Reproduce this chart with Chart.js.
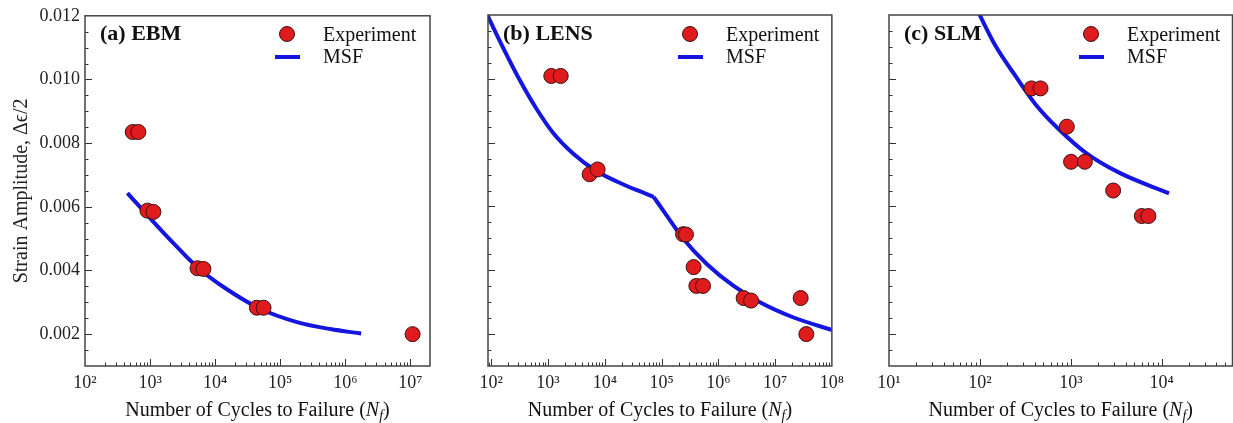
<!DOCTYPE html>
<html lang="en">
<head>
<meta charset="UTF-8">
<title>Strain-life curves: EBM, LENS, SLM</title>
<script src="https://cdn.jsdelivr.net/npm/chart.js"></script>
<style>
  body { margin: 0; background: #fff; }
  #wrap { position: relative; width: 1233px; height: 423px; overflow: hidden; }
  canvas { position: absolute; top: 0; }
</style>
</head>
<body>
<div id="wrap">
  <canvas id="ebm" width="440" height="423" style="left:0px"></canvas>
  <canvas id="lens" width="410" height="423" style="left:440px"></canvas>
  <canvas id="slm" width="391" height="423" style="left:850px"></canvas>
</div>

<script>
// (a) EBM
const ebmExpN   = [541, 661, 910, 1125, 5350, 6600, 43700, 55400, 1.08e7];
const ebmExpAmp = [0.00835, 0.00835, 0.00588, 0.00584, 0.00407, 0.00405, 0.00283, 0.00283, 0.0020];
const ebmMsfN   = [448, 1125, 2280, 5220, 15140, 49200, 181000, 587000, 1750000];
const ebmMsfAmp = [0.00643, 0.00553, 0.00486, 0.00412, 0.00341, 0.00280, 0.00238, 0.00216, 0.00202];

// (b) LENS - the MSF curve has a kink, so it is kept in two pieces
const lensExpN   = [1140, 1670, 5400, 7470, 239000, 269000, 367000, 410000, 537000, 2790000, 3770000, 28200000, 35500000];
const lensExpAmp = [0.01009, 0.01009, 0.00701, 0.00716, 0.00513, 0.00512, 0.0041, 0.00351, 0.00351, 0.00313, 0.00305, 0.00313, 0.0020];
const lensMsfN1   = [80, 161, 315, 621, 1222, 2754, 7080, 23900, 42300, 72400];
const lensMsfAmp1 = [0.0121, 0.01098, 0.00997, 0.00907, 0.00831, 0.00766, 0.00711, 0.00665, 0.00647, 0.0063];
const lensMsfN2   = [72400, 125000, 245000, 631000, 1860000, 5500000, 21200000, 100000000];
const lensMsfAmp2 = [0.0063, 0.0057, 0.00497, 0.00419, 0.00351, 0.00299, 0.00252, 0.00213];

// (c) SLM
const slmExpN   = [369, 464, 903, 1006, 1425, 2920, 6030, 7130];
const slmExpAmp = [0.0097, 0.0097, 0.0085, 0.0074, 0.0074, 0.0065, 0.0057, 0.0057];
const slmMsfN   = [90, 150, 249, 412, 743, 1462, 3397, 12020];
const slmMsfAmp = [0.01225, 0.01101, 0.01007, 0.00919, 0.00841, 0.00768, 0.00706, 0.00641];

const yTicks = [0.002, 0.004, 0.006, 0.008, 0.010, 0.012];

const RED = '#e01b1e';
const BLUE = '#1515e0';
const SERIF = '"Liberation Serif", "Times New Roman", serif';

const sup = n => String(n).split('').map(d => '⁰¹²³⁴⁵⁶⁷⁸⁹'[+d]).join('');
const pts = (xs, ys) => xs.map((x, i) => ({x: x, y: ys[i]}));

// frame, inward ticks, panel label, legend and x title
const panelDecor = {
  id: 'panelDecor',
  afterDatasetsDraw(chart, args, opts) {
    const {ctx, chartArea: a, scales: {x, y}} = chart;
    ctx.save();
    ctx.strokeStyle = '#333';
    ctx.lineWidth = 1;
    ctx.beginPath();
    for (let k = 3; k < 24; k++) {
      const py = Math.round(y.getPixelForValue(k / 2000)) + 0.5;
      const len = k % 4 === 0 ? 7 : 3.5;
      ctx.moveTo(a.left, py); ctx.lineTo(a.left + len, py);
    }
    const e0 = Math.floor(Math.log10(x.min)), e1 = Math.ceil(Math.log10(x.max));
    for (let e = e0; e <= e1; e++) {
      for (let m = 1; m <= 9; m++) {
        const v = m * Math.pow(10, e);
        if (v <= x.min * 1.001 || v >= x.max * 0.999) continue;
        const px = Math.round(x.getPixelForValue(v)) + 0.5;
        const len = m === 1 ? 7 : 3.5;
        ctx.moveTo(px, a.bottom); ctx.lineTo(px, a.bottom - len);
      }
    }
    ctx.stroke();

    ctx.strokeStyle = '#444';
    ctx.lineWidth = 1.5;
    ctx.strokeRect(a.left, a.top, a.right - a.left, a.bottom - a.top);

    // panel label
    ctx.fillStyle = '#111';
    ctx.textBaseline = 'middle';
    ctx.textAlign = 'left';
    ctx.font = 'bold 22px ' + SERIF;
    ctx.fillText(opts.label, a.left + 15, 34);

    // legend
    ctx.beginPath();
    ctx.arc(a.left + 202, 34, 7.5, 0, Math.PI * 2);
    ctx.fillStyle = RED; ctx.fill();
    ctx.strokeStyle = '#3a1212'; ctx.lineWidth = 1; ctx.stroke();
    ctx.beginPath();
    ctx.moveTo(a.left + 190, 57); ctx.lineTo(a.left + 215, 57);
    ctx.strokeStyle = BLUE; ctx.lineWidth = 4; ctx.stroke();
    ctx.fillStyle = '#111';
    ctx.font = '20px ' + SERIF;
    ctx.fillText('Experiment', a.left + 238, 36);
    ctx.fillText('MSF', a.left + 238, 58);

    // x axis title with italic N and subscript f
    const parts = [
      {t: 'Number of Cycles to Failure (', f: '20px ' + SERIF, dy: 0},
      {t: 'N', f: 'italic 20px ' + SERIF, dy: 0},
      {t: 'f', f: 'italic 14px ' + SERIF, dy: 5},
      {t: ')', f: '20px ' + SERIF, dy: 0}
    ];
    let w = 0;
    parts.forEach(p => { ctx.font = p.f; p.w = ctx.measureText(p.t).width; w += p.w; });
    let cx = (a.left + a.right) / 2 - w / 2;
    parts.forEach(p => { ctx.font = p.f; ctx.fillText(p.t, cx, 411 + p.dy); cx += p.w; });
    ctx.restore();
  }
};

function makePanel(id, cfg) {
  const yScale = {
    type: 'linear', min: 0.001, max: 0.012,
    grid: {display: false, drawTicks: false}, border: {display: false},
    ticks: {
      display: cfg.yLabels, stepSize: 0.001, padding: 5, color: '#222',
      font: {family: SERIF, size: 18},
      callback: v => v.toFixed(3)
    },
    afterBuildTicks: s => { s.ticks = yTicks.map(v => ({value: v})); },
    afterFit: s => { s.width = cfg.yWidth; }
  };
  if (cfg.yLabels) {
    yScale.title = {
      display: true, text: 'Strain Amplitude, Δϵ/2', color: '#222',
      font: {family: SERIF, size: 20}, padding: {top: 10, bottom: 0}
    };
  }
  const datasets = [{
    label: 'Experiment', data: pts(cfg.expN, cfg.expAmp), showLine: false,
    pointRadius: 7.5, pointHoverRadius: 7.5, backgroundColor: RED,
    borderColor: '#3a1212', borderWidth: 1
  }];
  cfg.lines.forEach(l => datasets.push({
    label: 'MSF', data: pts(l[0], l[1]), showLine: true, pointRadius: 0,
    borderColor: BLUE, borderWidth: 4, cubicInterpolationMode: 'monotone', clip: 0
  }));

  return new Chart(document.getElementById(id).getContext('2d'), {
    type: 'scatter',
    data: {datasets: datasets},
    plugins: [panelDecor],
    options: {
      responsive: false, animation: false, devicePixelRatio: 1,
      layout: {padding: {top: 15, right: cfg.padRight, left: 0, bottom: 0}},
      plugins: {legend: {display: false}, tooltip: {enabled: false}, panelDecor: {label: cfg.label}},
      scales: {
        x: {
          type: 'logarithmic', min: cfg.xMin, max: cfg.xMax,
          grid: {display: false, drawTicks: false}, border: {display: false},
          ticks: {
            padding: 6, color: '#222', maxRotation: 0, autoSkip: false,
            font: {family: SERIF, size: 18},
            callback: v => '10' + sup(Math.round(Math.log10(v)))
          },
          afterBuildTicks: s => {
            const t = [];
            for (let e = Math.ceil(Math.log10(s.min) - 1e-9); e <= Math.floor(Math.log10(s.max) + 1e-9); e++) t.push({value: Math.pow(10, e)});
            s.ticks = t;
          },
          afterFit: s => { s.height = 57; }
        },
        y: yScale
      }
    }
  });
}

makePanel('ebm', {
  label: '(a) EBM', yLabels: true, yWidth: 85, padRight: 10, xMin: 100, xMax: 2e7,
  expN: ebmExpN, expAmp: ebmExpAmp, lines: [[ebmMsfN, ebmMsfAmp]]
});
makePanel('lens', {
  label: '(b) LENS', yLabels: false, yWidth: 48, padRight: 18, xMin: 87.5, xMax: 1e8,
  expN: lensExpN, expAmp: lensExpAmp, lines: [[lensMsfN1, lensMsfAmp1], [lensMsfN2, lensMsfAmp2]]
});
makePanel('slm', {
  label: '(c) SLM', yLabels: false, yWidth: 39, padRight: 1, xMin: 10, xMax: 6e4,
  expN: slmExpN, expAmp: slmExpAmp, lines: [[slmMsfN, slmMsfAmp]]
});
</script>
</body>
</html>
